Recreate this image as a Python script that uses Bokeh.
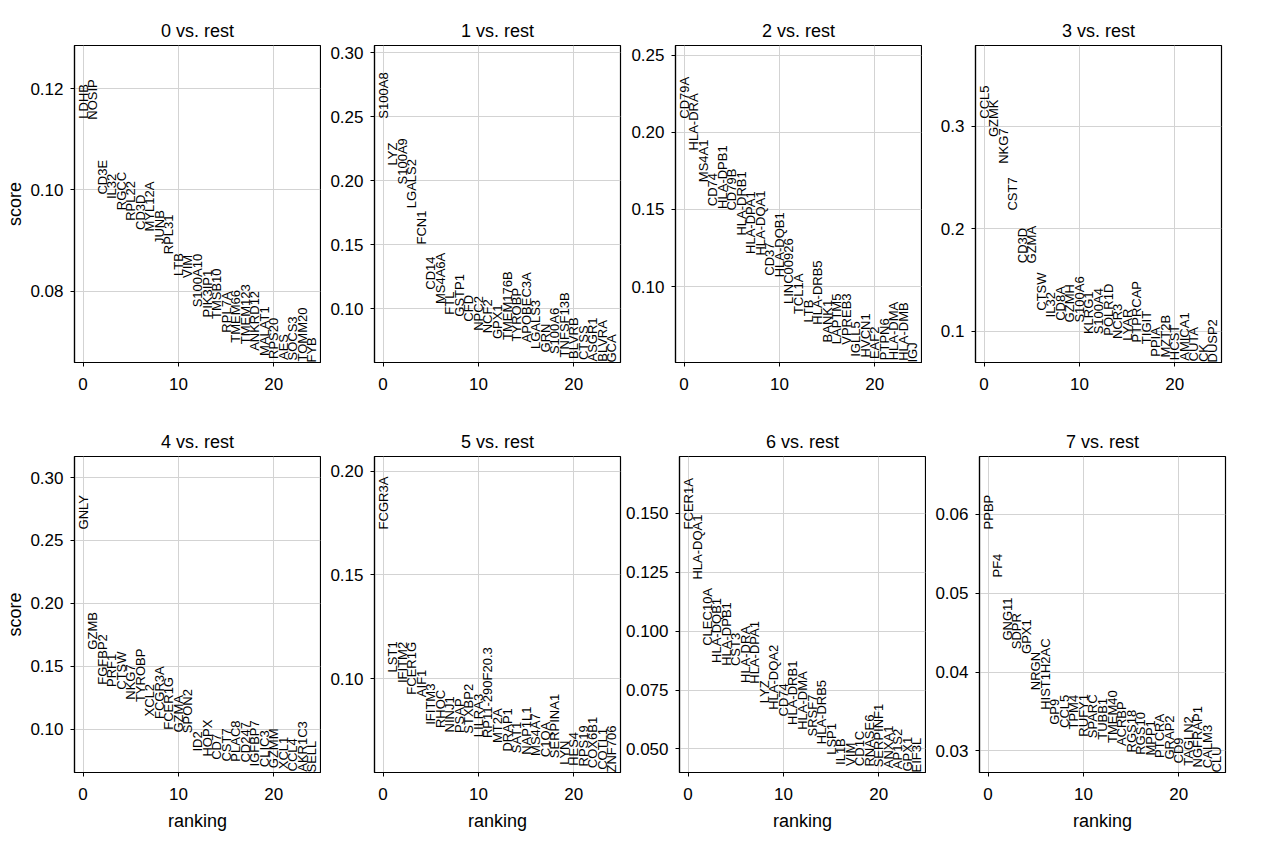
import math
from bokeh.plotting import figure
from bokeh.layouts import column, row
from bokeh.models import ColumnDataSource, FixedTicker, Range1d
from bokeh.core.properties import value
from bokeh.embed import file_html
from bokeh.resources import INLINE

# ---------------- data ----------------
titles = ["0 vs. rest", "1 vs. rest", "2 vs. rest", "3 vs. rest",
          "4 vs. rest", "5 vs. rest", "6 vs. rest", "7 vs. rest"]

genes_0 = ["LDHB", "NOSIP", "CD3E", "IL32", "RGCC", "RPL22", "CD3D", "MYL12A", "JUNB", "RPL31",
           "LTB", "VIM", "S100A10", "PIK3IP1", "TMSB10", "RPL7A", "TMEM66", "TMEM123", "ANKRD12",
           "MALAT1", "RPS20", "AES", "SOCS3", "TOMM20", "FYB"]
scores_0 = [0.1141, 0.1139, 0.0991, 0.0982, 0.0960, 0.0939, 0.0921, 0.0918, 0.0893, 0.0873,
            0.0830, 0.0826, 0.0768, 0.0748, 0.0745, 0.0718, 0.0698, 0.0695, 0.0682,
            0.0672, 0.0666, 0.0664, 0.0663, 0.0661, 0.0659]

genes_1 = ["S100A8", "LYZ", "S100A9", "LGALS2", "FCN1", "CD14", "MS4A6A", "FTL", "GSTP1", "CFD",
           "NPC2", "NCF2", "GPX1", "TMEM176B", "TYROBP", "APOBEC3A", "LGALS3", "GRN", "S100A6",
           "TNFSF13B", "BLVRB", "CTSS", "ASGR1", "BLVRA", "GCA"]
scores_1 = [0.2486, 0.2120, 0.1972, 0.1786, 0.1502, 0.1149, 0.1037, 0.0954, 0.0938, 0.0899,
            0.0828, 0.0808, 0.0763, 0.0756, 0.0745, 0.0737, 0.0685, 0.0659, 0.0646,
            0.0620, 0.0607, 0.0599, 0.0588, 0.0586, 0.0580]

genes_2 = ["CD79A", "HLA-DRA", "MS4A1", "CD74", "HLA-DPB1", "CD79B", "HLA-DRB1", "HLA-DPA1",
           "HLA-DQA1", "CD37", "HLA-DQB1", "LINC00926", "TCL1A", "LTB", "HLA-DRB5", "BANK1",
           "LAPTM5", "VPREB3", "IGLL5", "HVCN1", "EAF2", "PTPN6", "HLA-DMA", "HLA-DMB", "IGJ"]
scores_2 = [0.2089, 0.1883, 0.1677, 0.1521, 0.1504, 0.1493, 0.1331, 0.1212,
            0.1201, 0.1071, 0.1060, 0.0887, 0.0822, 0.0768, 0.0753, 0.0638,
            0.0627, 0.0623, 0.0545, 0.0541, 0.0530, 0.0523, 0.0522, 0.0519, 0.0508]

genes_3 = ["CCL5", "GZMK", "NKG7", "CST7", "CD3D", "GZMA", "CTSW", "IL32", "CD8A", "GZMH",
           "S100A6", "KLRG1", "S100A4", "POLR1D", "NCR3", "LYAR", "PTPRCAP", "TIGIT", "PPIA",
           "MZT2B", "HCST", "AMICA1", "CUTA", "CK", "DUSP2"]
scores_3 = [0.3075, 0.2896, 0.2635, 0.2179, 0.1665, 0.1663, 0.1202, 0.1137, 0.1104, 0.1088,
            0.1086, 0.0974, 0.0972, 0.0958, 0.0925, 0.0909, 0.0893, 0.0876, 0.0753,
            0.0746, 0.0720, 0.0714, 0.0707, 0.0701, 0.0697]

genes_4 = ["GNLY", "GZMB", "FGFBP2", "PRF1", "CTSW", "NKG7", "TYROBP", "XCL2", "FCGR3A", "FCER1G",
           "GZMA", "SPON2", "ID2", "HOPX", "CD7", "CST7", "PLAC8", "CD247", "IGFBP7", "CLIC3",
           "GZMM", "XCL1", "CCL4", "AKR1C3", "SELL"]
scores_4 = [0.2588, 0.1632, 0.1353, 0.1335, 0.1313, 0.1234, 0.1215, 0.1101, 0.1080, 0.0995,
            0.0973, 0.0968, 0.0822, 0.0782, 0.0756, 0.0742, 0.0741, 0.0734, 0.0703, 0.0697,
            0.0689, 0.0681, 0.0663, 0.0661, 0.0655]

genes_5 = ["FCGR3A", "LST1", "IFITM2", "FCER1G", "AIF1", "IFITM3", "RHOC", "NINJ1", "PSAP",
           "STXBP2", "LILRA3", "RP11-290F20.3", "MT2A", "DRAP1", "SAT1", "NAP1L1", "MS4A7",
           "C1QA", "SERPINA1", "LYN", "HES4", "RPS19", "COX6B1", "COTL1", "ZNF706"]
scores_5 = [0.1719, 0.1030, 0.0979, 0.0923, 0.0911, 0.0778, 0.0762, 0.0741, 0.0738,
            0.0735, 0.0718, 0.0714, 0.0690, 0.0649, 0.0641, 0.0633, 0.0628,
            0.0622, 0.0617, 0.0585, 0.0580, 0.0577, 0.0569, 0.0561, 0.0548]

genes_6 = ["FCER1A", "HLA-DQA1", "CLEC10A", "HLA-DQB1", "HLA-DPB1", "CST3", "HLA-DRA", "HLA-DPA1",
           "LYZ", "HLA-DQA2", "CD74", "HLA-DRB1", "HLA-DMA", "SRSF7", "HLA-DRB5", "LSP1", "IL1B",
           "VIM", "CD1C", "RNASE6", "SERPINF1", "ANXA1", "AP1S2", "GPX1", "EIF3L"]
scores_6 = [0.1432, 0.1219, 0.0938, 0.0865, 0.0853, 0.0852, 0.0780, 0.0777,
            0.0694, 0.0666, 0.0638, 0.0602, 0.0581, 0.0553, 0.0520, 0.0475, 0.0432,
            0.0428, 0.0427, 0.0425, 0.0422, 0.0418, 0.0414, 0.0404, 0.0400]

genes_7 = ["PPBP", "PF4", "GNG11", "SDPR", "GPX1", "NRGN", "HIST1H2AC", "GP9", "CCL5", "TPM4",
           "RUFY1", "SPARC", "TUBB1", "TMEM40", "ACRBP", "RGS18", "RGS10", "MPP1", "PTCRA",
           "GRAP2", "CD9", "TAGLN2", "NGFRAP1", "CALM3", "CLU"]
scores_7 = [0.0581, 0.0520, 0.0440, 0.0429, 0.0423, 0.0377, 0.0352, 0.0333, 0.0329, 0.0327,
            0.0318, 0.0316, 0.0314, 0.0310, 0.0306, 0.0298, 0.0295, 0.0294, 0.0291,
            0.0289, 0.0284, 0.0281, 0.0279, 0.0278, 0.02725]

yticks_0 = [0.08, 0.10, 0.12]
yticks_1 = [0.10, 0.15, 0.20, 0.25, 0.30]
yticks_2 = [0.10, 0.15, 0.20, 0.25]
yticks_3 = [0.1, 0.2, 0.3]
yticks_4 = [0.10, 0.15, 0.20, 0.25, 0.30]
yticks_5 = [0.10, 0.15, 0.20]
yticks_6 = [0.050, 0.075, 0.100, 0.125, 0.150]
yticks_7 = [0.03, 0.04, 0.05, 0.06]
ytick_labels_0 = ["0.08", "0.10", "0.12"]
ytick_labels_1 = ["0.10", "0.15", "0.20", "0.25", "0.30"]
ytick_labels_2 = ["0.10", "0.15", "0.20", "0.25"]
ytick_labels_3 = ["0.1", "0.2", "0.3"]
ytick_labels_4 = ["0.10", "0.15", "0.20", "0.25", "0.30"]
ytick_labels_5 = ["0.10", "0.15", "0.20"]
ytick_labels_6 = ["0.050", "0.075", "0.100", "0.125", "0.150"]
ytick_labels_7 = ["0.03", "0.04", "0.05", "0.06"]
xticks = [0, 10, 20]
xtick_labels = ["0", "10", "20"]

all_genes = [genes_0, genes_1, genes_2, genes_3, genes_4, genes_5, genes_6, genes_7]
all_scores = [scores_0, scores_1, scores_2, scores_3, scores_4, scores_5, scores_6, scores_7]
all_yticks = [yticks_0, yticks_1, yticks_2, yticks_3, yticks_4, yticks_5, yticks_6, yticks_7]
all_ylabels = [ytick_labels_0, ytick_labels_1, ytick_labels_2, ytick_labels_3,
               ytick_labels_4, ytick_labels_5, ytick_labels_6, ytick_labels_7]

# ---------------- styling / layout ----------------
FONT = "Liberation Sans"
FRAME_W = 246
BORDER_LEFT = [74, 53, 53, 53]
BORDER_RIGHT = [1, 2, 1, 10]


def make_panel(i):
    r, c = divmod(i, 4)
    genes, scores = all_genes[i], all_scores[i]
    ranks = list(range(len(genes)))
    ymin, ymax = min(scores), max(scores)
    ytop = ymax + 0.3 * (ymax - ymin)

    p = figure(
        output_backend="svg", toolbar_location=None,
        frame_width=FRAME_W, frame_height=317 if r == 0 else 316,
        min_border_left=BORDER_LEFT[c], min_border_right=BORDER_RIGHT[c],
        min_border_top=45 if r == 0 else 37, min_border_bottom=57 if r == 0 else 68,
        x_range=Range1d(-0.9, len(genes) - 0.1), y_range=Range1d(ymin, ytop),
        title=titles[i],
        background_fill_color="white", border_fill_color="white",
    )
    p.title.align = "center"
    p.title.text_font = FONT
    p.title.text_font_size = "18px"
    p.title.text_font_style = "normal"
    p.title.text_color = "black"
    p.title.standoff = 10

    p.outline_line_color = "black"
    p.outline_line_width = 1.2

    src = ColumnDataSource(dict(x=ranks, y=scores, gene=genes))
    p.text(x="x", y="y", text="gene", source=src, angle=math.pi / 2,
           text_align="left", text_baseline="middle",
           text_font=value(FONT), text_font_size="13px", text_color="black")

    p.xaxis.ticker = FixedTicker(ticks=xticks)
    p.xaxis.major_label_overrides = {t: l for t, l in zip(xticks, xtick_labels)}
    p.yaxis.ticker = FixedTicker(ticks=all_yticks[i])
    p.yaxis.major_label_overrides = {t: l for t, l in zip(all_yticks[i], all_ylabels[i])}

    for ax in (p.xaxis[0], p.yaxis[0]):
        ax.axis_line_color = "black"
        ax.axis_line_width = 1.2
        ax.major_tick_line_color = "black"
        ax.major_tick_out = 4
        ax.major_tick_in = 0
        ax.minor_tick_line_color = None
        ax.major_label_text_font = FONT
        ax.major_label_text_font_size = "17px"
        ax.major_label_text_color = "black"
        ax.axis_label_text_font = FONT
        ax.axis_label_text_font_size = "18px"
        ax.axis_label_text_font_style = "normal"
        ax.axis_label_text_color = "black"
    p.xaxis.major_label_standoff = 11
    p.yaxis.major_label_standoff = 7

    if c == 0:
        p.yaxis.axis_label = "score"
        p.yaxis.axis_label_standoff = 2
    if r == 1:
        p.xaxis.axis_label = "ranking"
        p.xaxis.axis_label_standoff = 8

    p.xgrid.grid_line_color = "#d3d3d3"
    p.ygrid.grid_line_color = "#d3d3d3"
    p.xgrid.grid_line_width = 1
    p.ygrid.grid_line_width = 1
    return p


panels = [make_panel(i) for i in range(8)]
layout = column(row(*panels[:4]), row(*panels[4:]))

open("out.html", "w").write(file_html(layout, INLINE))
